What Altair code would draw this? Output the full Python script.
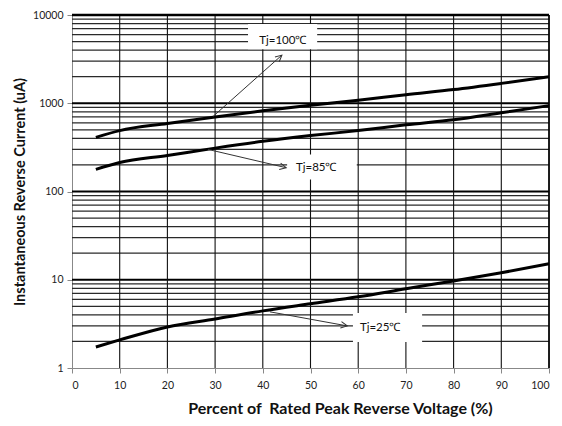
import altair as alt
import pandas as pd

x_pct = [5, 10, 20, 30, 40, 50, 60, 70, 80, 90, 100]
i_100 = [411, 490, 590, 700, 820, 950, 1080, 1250, 1430, 1680, 2000]
i_85 = [178, 213, 256, 310, 370, 430, 490, 570, 650, 780, 940]
i_25 = [1.73, 2.08, 2.92, 3.6, 4.44, 5.34, 6.4, 7.9, 9.7, 12, 15.2]

labels = ["Tj=100℃", "Tj=85℃", "Tj=25℃"]
label_x = [44.2, 51.2, 64.6]
label_y = [5030, 186, 2.85]
box_x1 = [36.9, 45.1, 58.9]
box_x2 = [51.4, 59.7, 73.4]
box_y1 = [4090, 137, 1.97]
box_y2 = [7900, 263, 4.2]
arrow_x1 = [29.6, 28.5, 41.5]
arrow_y1 = [711, 300, 4.33]
arrow_x2 = [44.0, 44.9, 57.7]
arrow_y2 = [3510, 186, 3.0]
arrow_angle = [318.5, 13, 10.3]

x_ticks = list(range(0, 101, 10))
decades = [1, 10, 100, 1000, 10000]
minor = [m * d for d in [1, 10, 100, 1000] for m in range(2, 10)]

W, H = 477, 353
xs = alt.Scale(domain=[0, 100], nice=False)
ys = alt.Scale(type="log", domain=[1, 10000], nice=False)

rows = []
for name, vals in [("100", i_100), ("85", i_85), ("25", i_25)]:
    for xv, yv in zip(x_pct, vals):
        rows.append({"x": xv, "y": yv, "s": name})
df = pd.DataFrame(rows)

hgrid_minor = alt.Chart(pd.DataFrame({"y": minor})).mark_rule(color="#2a2a2a", strokeWidth=1.2).encode(
    y=alt.Y("y:Q", scale=ys))
hgrid_dec = alt.Chart(pd.DataFrame({"y": decades[1:]})).mark_rule(color="#000", strokeWidth=2.2).encode(
    y=alt.Y("y:Q", scale=ys))
vgrid = alt.Chart(pd.DataFrame({"x": x_ticks[1:]})).mark_rule(color="#111", strokeWidth=1.1).encode(
    x=alt.X("x:Q", scale=xs))

ann = pd.DataFrame({"label": labels, "lx": label_x, "ly": label_y,
                    "bx1": box_x1, "bx2": box_x2, "by1": box_y1, "by2": box_y2,
                    "ax1": arrow_x1, "ay1": arrow_y1, "ax2": arrow_x2, "ay2": arrow_y2,
                    "ang": arrow_angle})

boxes = alt.Chart(ann).mark_rect(fill="white").encode(
    x=alt.X("bx1:Q", scale=xs), x2="bx2:Q",
    y=alt.Y("by1:Q", scale=ys), y2="by2:Q")

lines = alt.Chart(df).mark_line(color="black", strokeWidth=3, interpolate="monotone").encode(
    x=alt.X("x:Q", scale=xs,
            axis=alt.Axis(values=x_ticks, title="Percent of\u00a0 Rated Peak Reverse Voltage (%)",
                          grid=False, domainColor="#888", tickColor="#888", tickSize=5,
                          labelPadding=7, labelFontSize=10.5, labelColor="#222",
                          labelFont="Lato", titleFont="Lato", titleFontSize=16,
                          titleFontWeight="bold", titleColor="#111", titlePadding=10,
                          titleX=268, titleAlign="center")),
    y=alt.Y("y:Q", scale=ys,
            axis=alt.Axis(values=decades, format="d", title="Instantaneous Reverse Current (uA)",
                          grid=False, domainColor="#888", tickColor="#888", tickSize=5,
                          labelPadding=4, labelFontSize=10.5, labelColor="#222",
                          labelFont="Lato", titleFont="Lato", titleFontSize=14.5,
                          titleFontWeight="bold", titleColor="#111", titlePadding=5)),
    detail="s:N")

arrows = alt.Chart(ann).mark_rule(color="#333", strokeWidth=1).encode(
    x=alt.X("ax1:Q", scale=xs), x2="ax2:Q",
    y=alt.Y("ay1:Q", scale=ys), y2="ay2:Q")
heads = alt.Chart(ann).mark_point(shape="M -1.6 -0.8 L 0 0 L -1.6 0.8", filled=False,
                                  color="#333", strokeWidth=1, size=64, opacity=1).encode(
    x=alt.X("ax2:Q", scale=xs), y=alt.Y("ay2:Q", scale=ys), angle=alt.Angle("ang:Q", scale=None))
texts = alt.Chart(ann).mark_text(font="Lato", fontSize=11.5, color="#111").encode(
    x=alt.X("lx:Q", scale=xs), y=alt.Y("ly:Q", scale=ys), text="label:N")

top_border = alt.Chart(pd.DataFrame({"y": [10000]})).mark_rule(color="#000", strokeWidth=2.5).encode(
    y=alt.Y("y:Q", scale=ys))
right_border = alt.Chart(pd.DataFrame({"x": [100]})).mark_rule(color="#000", strokeWidth=1.5).encode(
    x=alt.X("x:Q", scale=xs))

chart = alt.layer(hgrid_minor, hgrid_dec, vgrid, boxes, lines, arrows, heads, texts,
                  top_border, right_border).properties(
    width=W, height=H,
    autosize=alt.AutoSizeParams(type="none"),
    padding={"left": 64, "top": 7, "right": 5, "bottom": 56},
).configure_view(stroke=None).configure(background="white")

chart.save("out.html", embed_options={"renderer": "svg", "actions": False})
